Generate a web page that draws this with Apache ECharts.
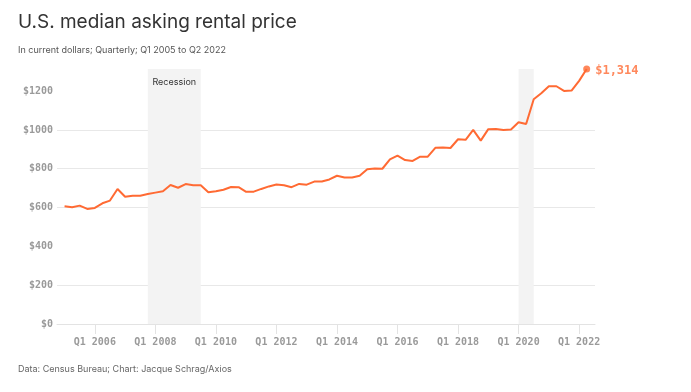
<!DOCTYPE html>
<html>
<head>
<meta charset="utf-8">
<script src="https://cdn.jsdelivr.net/npm/echarts@6/dist/echarts.min.js"></script>
<style>
  html, body { margin: 0; padding: 0; background: #fff; }
  #chart { width: 691px; height: 392px; }
</style>
</head>
<body>
<div id="chart"></div>
<script>
// ---- Data ----
const quarters = [];
for (let y = 2005; y <= 2022; y++) {
  for (let q = 1; q <= 4; q++) {
    if (y === 2022 && q > 2) break;
    quarters.push('Q' + q + ' ' + y);
  }
}
const rent = [
  607, 602, 610, 593, 598, 622, 636, 696, 656, 661,
  661, 670, 677, 684, 716, 702, 721, 715, 715, 679,
  684, 692, 706, 705, 681, 682, 696, 709, 719, 715,
  705, 722, 718, 734, 734, 745, 764, 755, 755, 764,
  798, 801, 800, 848, 868, 845, 840, 862, 862, 908,
  909, 907, 952, 949, 1000, 945, 1004, 1005, 1000, 1002,
  1040, 1031, 1158, 1189, 1225, 1225, 1201, 1203, 1253, 1314
];
const xTickLabels = ['Q1 2006', 'Q1 2008', 'Q1 2010', 'Q1 2012', 'Q1 2014', 'Q1 2016', 'Q1 2018', 'Q1 2020', 'Q1 2022'];
const yTicks = [0, 200, 400, 600, 800, 1000, 1200];
const recessions = [['Q4 2007', 'Q3 2009'], ['Q1 2020', 'Q3 2020']];
const recessionLabel = 'Recession';

// ---- Build ----
const ORANGE = '#ff6a33';
const GRID = '#e8e8e8';
const NONE = 'rgba(0,0,0,0)';
const MONO = '"DejaVu Sans Mono", "Liberation Mono", monospace';
const SANS = 'Inter, "Noto Sans", sans-serif';
const seriesData = rent.map((v, i) => [i, v]);
const last = seriesData[seriesData.length - 1];
const tickIdx = xTickLabels.map(l => quarters.indexOf(l));
const topVal = Math.max(...rent);

const chart = echarts.init(document.getElementById('chart'), null, { renderer: 'canvas' });
chart.setOption({
  animation: false,
  backgroundColor: '#fff',
  title: [
    { text: 'U.S. median asking rental price', left: 18, top: 13, padding: 0,
      textStyle: { fontFamily: SANS, fontSize: 19, fontWeight: 400, color: '#333' } },
    { text: 'In current dollars; Quarterly; Q1 2005 to Q2 2022', left: 18, top: 46, padding: 0,
      textStyle: { fontFamily: SANS, fontSize: 9, fontWeight: 400, color: '#555' } },
    { text: 'Data: Census Bureau; Chart: Jacque Schrag/Axios', left: 18, top: 365, padding: 0,
      textStyle: { fontFamily: SANS, fontSize: 9, fontWeight: 400, color: '#666' } }
  ],
  grid: { left: 57, right: 96, top: 69, bottom: 68 },
  xAxis: {
    type: 'value',
    min: -1,
    max: 70.1,
    axisLine: { show: true, lineStyle: { color: '#e3e3e3', width: 1 } },
    axisTick: { show: true, customValues: tickIdx, length: 10, lineStyle: { color: '#e3e3e3' } },
    axisLabel: {
      customValues: tickIdx,
      formatter: v => quarters[Math.round(v)],
      margin: 13,
      fontFamily: MONO, fontSize: 10, fontWeight: 'bold', color: '#9a9a9a'
    },
    splitLine: { show: false }
  },
  yAxis: {
    type: 'value',
    min: yTicks[0],
    max: topVal,
    interval: 200,
    axisLine: { show: false },
    axisTick: { show: false },
    axisLabel: {
      showMaxLabel: false,
      formatter: v => '$' + v,
      margin: 4,
      fontFamily: MONO, fontSize: 10, fontWeight: 'bold', color: '#9a9a9a'
    },
    splitLine: { show: true, lineStyle: { color: [GRID, GRID, NONE, GRID, GRID, GRID, NONE, NONE], width: 1 } }
  },
  series: [{
    type: 'line',
    data: seriesData,
    clip: false,
    symbol: 'none',
    lineStyle: { color: ORANGE, width: 2 },
    z: 3,
    markArea: {
      silent: true,
      itemStyle: { color: '#f3f3f3' },
      label: { show: false },
      data: recessions.map((r, k) => [
        { xAxis: quarters.indexOf(r[0]),
          label: k === 0 ? { show: true, formatter: recessionLabel, position: 'insideTop', distance: 9,
            fontFamily: SANS, fontSize: 9, color: '#333' } : { show: false } },
        { xAxis: quarters.indexOf(r[1]) }
      ])
    }
  }, {
    type: 'scatter',
    data: [last],
    clip: false,
    symbol: 'circle',
    symbolSize: 7,
    z: 4,
    itemStyle: { color: ORANGE },
    label: {
      show: true, position: 'right', distance: 5, offset: [0, 2],
      formatter: p => '$' + p.value[1].toLocaleString('en-US'),
      fontFamily: MONO, fontSize: 12, fontWeight: 'bold', color: ORANGE
    }
  }]
});
</script>
</body>
</html>
